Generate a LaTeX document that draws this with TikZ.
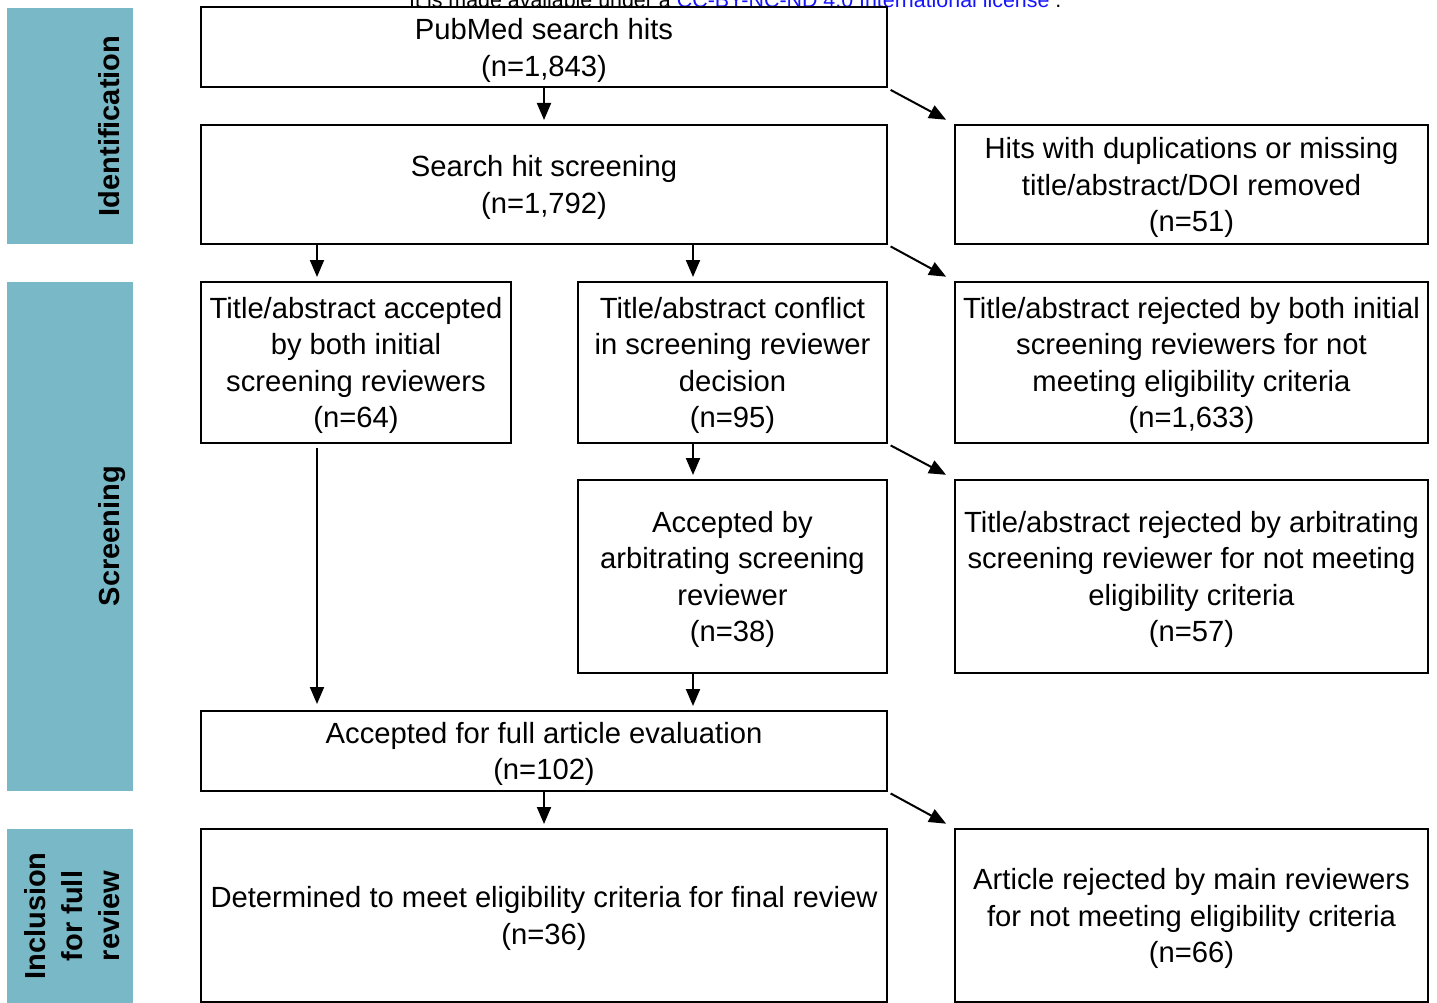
\documentclass[tikz,border=0pt]{standalone}
\usepackage{fontspec}
\setmainfont{Liberation Sans}
\usetikzlibrary{arrows.meta,calc}
\definecolor{band}{RGB}{121,184,198}
\definecolor{linkblue}{RGB}{20,20,255}
\begin{document}
\begin{tikzpicture}[x=1pt,y=-1pt,
  box/.style={draw, line width=2pt, inner sep=0pt, align=center, text depth=0pt,
    font=\fontsize{29.2}{36.5}\selectfont},
  bandlbl/.style={rotate=90, inner sep=0pt, align=center,
    font=\fontsize{29}{37}\selectfont\bfseries},
  arr/.style={line width=2pt, -{Triangle[width=14pt,length=17pt]}, shorten >=4pt},
  darr/.style={line width=2pt, -{Triangle[width=14pt,length=17pt]}, shorten <=3pt, shorten >=9pt}]
\clip (0,0) rectangle (1437,1003);
\fill[white] (0,0) rectangle (1437,1003);

% side bands
\fill[band] (7,8) rectangle (133,244);
\fill[band] (7,282) rectangle (133,791);
\fill[band] (7,829) rectangle (133,1003);
\node[bandlbl, anchor=base] (lid) at (119.5,126) {Identification};
\node[bandlbl, anchor=base] (lscr) at (119.5,536) {Screening};
\node[bandlbl, anchor=base] (linc) at (119.5,916) {Inclusion\\for full\\review};

% license text (cut off at top)
\node[anchor=base west, inner sep=0pt, font=\fontsize{21.4}{24}\selectfont] (lic) at (409,7.5)
  {It is made available under a \textcolor{linkblue}{CC-BY-NC-ND 4.0 International license} .};

% boxes
\node[box, minimum width=686pt, minimum height=80pt] (pub) at (544,47.5) {PubMed search hits\\(n=1,843)};
\node[box, minimum width=686pt, minimum height=119pt] (search) at (544,184.5) {Search hit screening\\(n=1,792)};
\node[box, minimum width=473pt, minimum height=119pt] (hits) at (1191.5,184.5) {Hits with duplications or missing\\title/abstract/DOI removed\\(n=51)};
\node[box, minimum width=310pt, minimum height=161pt] (acc) at (356,362.5) {Title/abstract accepted\\by both initial\\screening reviewers\\(n=64)};
\node[box, minimum width=309pt, minimum height=161pt] (conf) at (732.5,362.5) {Title/abstract conflict\\in screening reviewer\\decision\\(n=95)};
\node[box, minimum width=473pt, minimum height=161pt] (rej1) at (1191.5,362.5) {Title/abstract rejected by both initial\\screening reviewers for not\\meeting eligibility criteria\\(n=1,633)};
\node[box, minimum width=309pt, minimum height=193pt] (arb) at (732.5,576.5) {Accepted by\\arbitrating screening\\reviewer\\(n=38)};
\node[box, minimum width=473pt, minimum height=193pt] (rej2) at (1191.5,576.5) {Title/abstract rejected by arbitrating\\screening reviewer for not meeting\\eligibility criteria\\(n=57)};
\node[box, minimum width=686pt, minimum height=80pt] (full) at (544,751) {Accepted for full article evaluation\\(n=102)};
\node[box, minimum width=686pt, minimum height=173pt] (det) at (544,915.5) {Determined to meet eligibility criteria for final review\\(n=36)};
\node[box, minimum width=473pt, minimum height=173pt] (art) at (1191.5,915.5) {Article rejected by main reviewers\\for not meeting eligibility criteria\\(n=66)};

% helper x positions
\coordinate (cx1) at (317,0);
\coordinate (cx2) at (693,0);

% vertical arrows
\draw[arr] (pub.south) -- (search.north);
\draw[arr] (search.south -| cx1) -- (acc.north -| cx1);
\draw[arr] (search.south -| cx2) -- (conf.north -| cx2);
\draw[arr] (conf.south -| cx2) -- (arb.north -| cx2);
\draw[arr, shorten <=4pt, shorten >=6pt] (acc.south -| cx1) -- (full.north -| cx1);
\draw[arr] (arb.south -| cx2) -- (full.north -| cx2);
\draw[arr] (full.south) -- (det.north);

% diagonal arrows
\draw[darr] (pub.south east) -- (hits.north west);
\draw[darr] (search.south east) -- (rej1.north west);
\draw[darr] (conf.south east) -- (rej2.north west);
\draw[darr] (full.south east) -- (art.north west);
\end{tikzpicture}
\end{document}
